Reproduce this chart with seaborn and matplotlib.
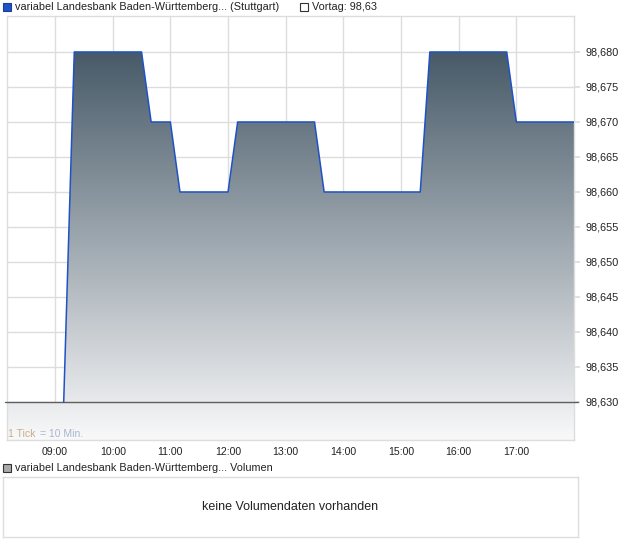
import numpy as np
import pandas as pd
import matplotlib
matplotlib.use("Agg")
import matplotlib.pyplot as plt
import seaborn as sns
from matplotlib.colors import LinearSegmentedColormap
from matplotlib.patches import Polygon, Rectangle

# ---- data ----
times = ["09:09", "09:20", "10:30", "10:40", "11:00", "11:10", "12:00", "12:10",
         "13:30", "13:40", "15:20", "15:30", "16:50", "17:00", "18:00"]
prices = [98.630, 98.680, 98.680, 98.670, 98.670, 98.660, 98.660, 98.670,
          98.670, 98.660, 98.660, 98.680, 98.680, 98.670, 98.670]
prev_close = 98.63
y_ticks = [98.630, 98.635, 98.640, 98.645, 98.650, 98.655, 98.660, 98.665,
           98.670, 98.675, 98.680]
x_tick_labels = ["09:00", "10:00", "11:00", "12:00", "13:00", "14:00",
                 "15:00", "16:00", "17:00"]
title_series = "variabel Landesbank Baden-Württemberg... (Stuttgart)"
title_prev = "Vortag: 98,63"
title_volume = "variabel Landesbank Baden-Württemberg... Volumen"
no_volume = "keine Volumendaten vorhanden"


def to_hours(s):
    h, m = s.split(":")
    return int(h) + int(m) / 60.0


df = pd.DataFrame({"hour": [to_hours(t) for t in times], "price": prices})
x_ticks = [to_hours(t) for t in x_tick_labels]

sns.set_theme(style="white")
plt.rcParams["font.family"] = ["Liberation Sans", "DejaVu Sans"]

W, H = 620, 546
fig = plt.figure(figsize=(W / 100, H / 100), dpi=100)
fig.patch.set_facecolor("white")

ax = fig.add_axes([7 / W, 1 - 440 / H, 567 / W, 424 / H])
xlo, xhi = to_hours("08:10"), to_hours("18:00")
ylo, yhi = 98.62457, 98.68514
ax.set_xlim(xlo, xhi)
ax.set_ylim(ylo, yhi)
ax.set_facecolor("white")

# gradient fill under the curve
cmap = LinearSegmentedColormap.from_list("g", ["#475a68", "#f9f9fa"])
grad = np.linspace(0, 1, 256).reshape(-1, 1)
im = ax.imshow(grad, cmap=cmap, aspect="auto", origin="upper",
               extent=[xlo, xhi, ylo, max(prices)], zorder=1, interpolation="bicubic")
verts = list(zip(df["hour"], df["price"]))
verts += [(df["hour"].iloc[-1], ylo), (xlo, ylo), (xlo, prev_close), (df["hour"].iloc[0], prev_close)]
poly = Polygon(verts, closed=True, transform=ax.transData, facecolor="none", edgecolor="none")
ax.add_patch(poly)
im.set_clip_path(poly)

# previous close line
ax.plot([-0.004, 1.007], [prev_close, prev_close], color="#5f5f5f", lw=1.0,
        transform=ax.get_yaxis_transform(), clip_on=False, zorder=3)

# price line
sns.lineplot(data=df, x="hour", y="price", ax=ax, color="#1f52c4", lw=1.1,
             sort=False, zorder=4)

ax.set_xticks(x_ticks)
ax.set_xticklabels(x_tick_labels)
ax.set_yticks(y_ticks)
ax.set_yticklabels([f"{v:.3f}".replace(".", ",") for v in y_ticks])
ax.set_axisbelow(True)
ax.grid(True, color="#dddddd", lw=1)
ax.yaxis.tick_right()
ax.tick_params(axis="y", length=4, color="#dddddd", labelsize=7.8,
               labelcolor="#222222", pad=4)
ax.tick_params(axis="x", length=0, labelsize=7.6, labelcolor="#222222", pad=5)
ax.set_xlabel("")
ax.set_ylabel("")
for sp in ax.spines.values():
    sp.set_color("#dddddd")
    sp.set_linewidth(1)

ax.text(1 / 567, 1 / 424, "1 Tick", transform=ax.transAxes, fontsize=7.5,
        color="#c9ad85", va="bottom", ha="left", zorder=5)
ax.text(33 / 567, 1 / 424, "= 10 Min.", transform=ax.transAxes, fontsize=7.5,
        color="#a9b6cc", va="bottom", ha="left", zorder=5)

# header legends
fig.add_artist(Rectangle((3 / W, 1 - 11 / H), 8 / W, 8 / H, transform=fig.transFigure,
                         facecolor="#1f52c4", edgecolor="#1a3f96", lw=0.8))
fig.text(15 / W, 1 - 7 / H, title_series, fontsize=7.8, color="#222222", va="center", ha="left")
fig.add_artist(Rectangle((300 / W, 1 - 11 / H), 8 / W, 8 / H, transform=fig.transFigure,
                         facecolor="white", edgecolor="#333333", lw=0.8))
fig.text(312 / W, 1 - 7 / H, title_prev, fontsize=7.8, color="#222222", va="center", ha="left")

# volume legend
fig.add_artist(Rectangle((3 / W, 1 - 472 / H), 8 / W, 8 / H, transform=fig.transFigure,
                         facecolor="#aaaaaa", edgecolor="#333333", lw=0.8))
fig.text(15 / W, 1 - 468 / H, title_volume, fontsize=7.8, color="#222222", va="center", ha="left")

# volume box
vax = fig.add_axes([3 / W, 1 - 537 / H, 575 / W, 60 / H])
vax.set_xticks([])
vax.set_yticks([])
vax.set_facecolor("white")
for sp in vax.spines.values():
    sp.set_color("#dddddd")
    sp.set_linewidth(1)
vax.text(0.5, 0.5, no_volume, transform=vax.transAxes, ha="center", va="center",
         fontsize=9.0, color="#222222")

fig.savefig("out.png", dpi=100, facecolor="white")
